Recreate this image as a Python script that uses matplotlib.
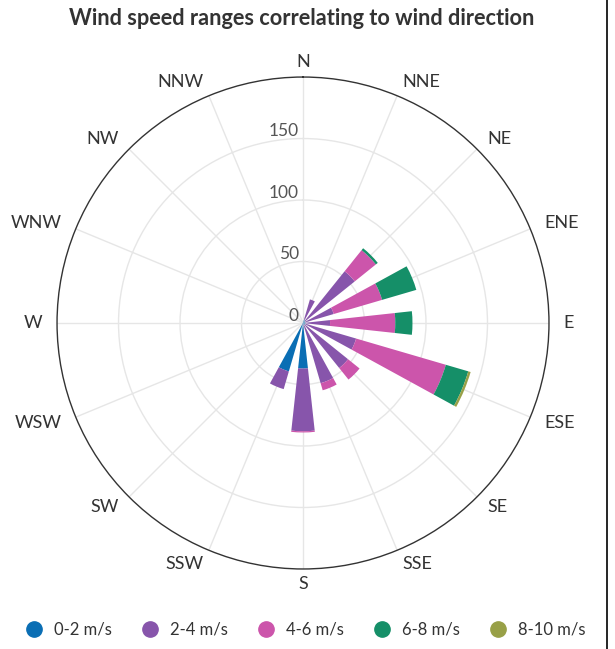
import numpy as np
import matplotlib.pyplot as plt
from matplotlib.lines import Line2D

plt.rcParams['font.family'] = ['Lato', 'DejaVu Sans']

# datos: frecuencia por dirección y rango de velocidad
direcciones = ['N', 'NNE', 'NE', 'ENE', 'E', 'ESE', 'SE', 'SSE',
               'S', 'SSW', 'SW', 'WSW', 'W', 'WNW', 'NW', 'NNW']
rangos = ['0-2 m/s', '2-4 m/s', '4-6 m/s', '6-8 m/s', '8-10 m/s']
v_0_2 = [1, 3, 2, 2, 2, 2, 2, 1, 37, 41, 1, 0, 0, 0, 0, 0]
v_2_4 = [0, 17, 52, 24, 20, 43, 45, 50, 51, 15, 0, 0, 0, 0, 0, 0]
v_4_6 = [0, 0, 22, 41, 53, 76, 12, 6, 1, 0, 0, 0, 0, 0, 0, 0]
v_6_8 = [0, 0, 2, 29, 14, 19, 0, 0, 0, 0, 0, 0, 0, 0, 0, 0]
v_8_10 = [0, 0, 0, 0, 0, 2, 0, 0, 0, 0, 0, 0, 0, 0, 0, 0]
series = [v_0_2, v_2_4, v_4_6, v_6_8, v_8_10]
colores = ['#0a6eb4', '#8755ab', '#cc55ab', '#158f68', '#98a047']

angulos = np.arange(len(direcciones)) * 22.5
theta = np.deg2rad(angulos)
ancho = np.deg2rad(12.4)

fig = plt.figure(figsize=(6.15, 6.49), dpi=100)
ax = fig.add_axes([0.0927, 0.1233, 0.8, 0.758], projection='polar')
ax.set_theta_zero_location('N')
ax.set_theta_direction(-1)

base = np.zeros(len(direcciones))
for vals, col, lab in zip(series, colores, rangos):
    vals = np.array(vals, dtype=float)
    ax.bar(theta, vals, width=ancho, bottom=base, color=col, linewidth=0, label=lab, zorder=3)
    base += vals

ax.set_ylim(0, 200)
ax.set_yticks([0, 50, 100, 150])
ax.set_yticklabels([])
for r in [0, 50, 100, 150]:
    ax.annotate(str(r), xy=(0, r), xytext=(-3, -0.5), textcoords='offset points',
                ha='right', va='bottom', fontsize=12.5, color='#555555', zorder=5)

ax.set_thetagrids(angulos, [''] * len(direcciones))
# etiquetas de dirección alineadas a la manera de un gráfico polar web
for ang, t, nombre in zip(angulos, theta, direcciones):
    s = np.sin(t)
    ha = 'left' if s > 0.01 else ('right' if s < -0.01 else 'center')
    ax.text(t, 212, nombre, ha=ha, va='center', fontsize=13, color='#333333', clip_on=False)

ax.grid(color='#e6e6e6', linewidth=1)
ax.spines['polar'].set_color('#333333')
ax.spines['polar'].set_linewidth(1)

fig.suptitle('Wind speed ranges correlating to wind direction', y=0.988,
             fontsize=15.7, fontweight='bold', color='#333333', x=0.49)

handles = [Line2D([], [], marker='o', linestyle='none', markersize=11,
                  markerfacecolor=c, markeredgecolor=c) for c in colores]
fig.legend(handles, rangos, loc='lower center', bbox_to_anchor=(0.49, -0.006), ncol=5,
           frameon=False, fontsize=12, handletextpad=0.2, columnspacing=1.3,
           labelcolor='#333333')

fig.add_artist(Line2D([607 / 615, 607 / 615], [0, 1], color='black', linewidth=1.2))

fig.savefig('out.png', dpi=100)
